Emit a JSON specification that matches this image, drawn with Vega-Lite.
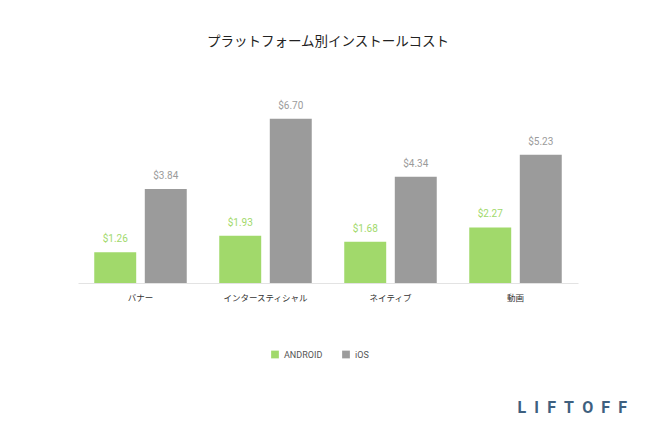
{
  "$schema": "https://vega.github.io/schema/vega-lite/v6.json",
  "width": 500,
  "height": 171.5,
  "autosize": {"type": "none"},
  "padding": {"left": 78, "top": 111.5, "right": 72, "bottom": 152},
  "background": "white",
  "config": {"view": {"stroke": null}, "font": "Roboto"},
  "title": {
    "text": "プラットフォーム別インストールコスト",
    "font": "Noto Sans CJK JP",
    "fontSize": 13.5,
    "fontWeight": "normal",
    "color": "#222222",
    "offset": 52
  },
  "data": {
    "values": [
      {"category": "バナー", "platform": "ANDROID", "value": 1.26},
      {"category": "バナー", "platform": "iOS", "value": 3.84},
      {"category": "インタースティシャル", "platform": "ANDROID", "value": 1.93},
      {"category": "インタースティシャル", "platform": "iOS", "value": 6.70},
      {"category": "ネイティブ", "platform": "ANDROID", "value": 1.68},
      {"category": "ネイティブ", "platform": "iOS", "value": 4.34},
      {"category": "動画", "platform": "ANDROID", "value": 2.27},
      {"category": "動画", "platform": "iOS", "value": 5.23}
    ]
  },
  "encoding": {
    "x": {
      "field": "category",
      "type": "nominal",
      "sort": ["バナー", "インタースティシャル", "ネイティブ", "動画"],
      "scale": {"paddingInner": 0.26, "paddingOuter": 0.13},
      "axis": {
        "labelAngle": 0,
        "labelFont": "Noto Sans CJK JP",
        "labelFontSize": 8.5,
        "labelColor": "#333333",
        "labelPadding": 10,
        "ticks": false,
        "domainColor": "#e3e3e3",
        "title": "L\u2002I\u2002F\u2002T\u2002O\u2002F\u2002F",
        "titleFont": "Roboto",
        "titleFontSize": 16,
        "titleFontWeight": "bold",
        "titleColor": "#3e607f",
        "titleAlign": "left",
        "titleBaseline": "middle",
        "titleX": 439,
        "titleY": 124
      }
    },
    "xOffset": {
      "field": "platform",
      "type": "nominal",
      "sort": ["ANDROID", "iOS"],
      "scale": {"paddingInner": 0.17, "paddingOuter": 0}
    },
    "y": {
      "field": "value",
      "type": "quantitative",
      "scale": {"domain": [0, 7]},
      "axis": null
    },
    "color": {
      "field": "platform",
      "type": "nominal",
      "sort": ["ANDROID", "iOS"],
      "scale": {"domain": ["ANDROID", "iOS"], "range": ["#a1d96b", "#9b9b9b"]},
      "legend": {
        "title": null,
        "orient": "none",
        "direction": "horizontal",
        "legendX": 192,
        "legendY": 238,
        "symbolType": "square",
        "symbolSize": 60,
        "labelFont": "Roboto",
        "labelFontSize": 9,
        "labelColor": "#555555",
        "columnPadding": 18
      }
    }
  },
  "layer": [
    {"mark": {"type": "bar"}},
    {
      "mark": {"type": "text", "baseline": "bottom", "dy": -8, "fontSize": 10, "fontWeight": "normal", "font": "Roboto"},
      "encoding": {
        "text": {"field": "value", "type": "quantitative", "format": "$.2f"}
      }
    }
  ]
}
